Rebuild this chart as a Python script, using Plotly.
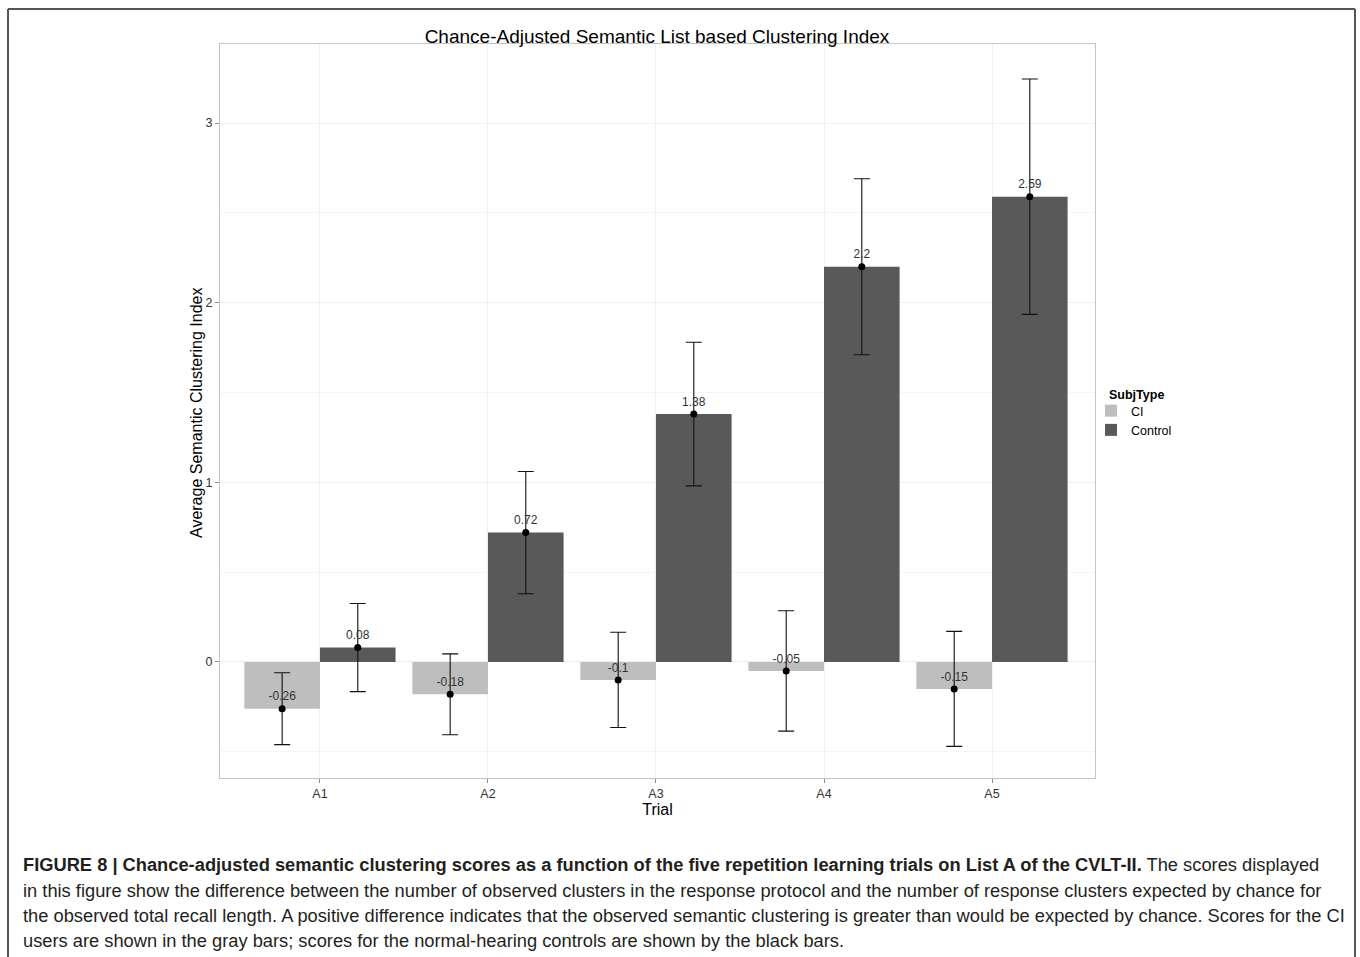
import plotly.graph_objects as go

trials = ["A1", "A2", "A3", "A4", "A5"]
ci_means = [-0.26, -0.18, -0.10, -0.05, -0.15]
ci_errors = [0.20, 0.225, 0.265, 0.335, 0.32]
control_means = [0.08, 0.72, 1.38, 2.20, 2.59]
control_errors = [0.245, 0.34, 0.40, 0.49, 0.655]
ci_labels = ["-0.26", "-0.18", "-0.1", "-0.05", "-0.15"]
control_labels = ["0.08", "0.72", "1.38", "2.2", "2.59"]

idx = list(range(len(trials)))
half = 0.225
x_ci = [i - half for i in idx]
x_ctl = [i + half for i in idx]

fig = go.Figure()

err_style = dict(type="data", color="#111111", thickness=1.1, width=8)

fig.add_trace(go.Bar(
    x=x_ci, y=ci_means, width=2 * half, name="CI",
    marker=dict(color="#bebebe", line=dict(width=0)),
    error_y=dict(array=ci_errors, **err_style),
))
fig.add_trace(go.Bar(
    x=x_ctl, y=control_means, width=2 * half, name="Control",
    marker=dict(color="#595959", line=dict(width=0)),
    error_y=dict(array=control_errors, **err_style),
))
for xs, ys, labs in [(x_ci, ci_means, ci_labels), (x_ctl, control_means, control_labels)]:
    fig.add_trace(go.Scatter(
        x=xs, y=ys, mode="markers+text", text=labs,
        textposition="top center",
        textfont=dict(family="Liberation Sans, Arial", size=12, color="#333333"),
        marker=dict(color="black", size=7), showlegend=False, cliponaxis=False,
    ))

# frame geometry helpers (pixel -> paper)
L, R, T, B = 220, 1095, 44, 778
W, H = R - L, B - T
def px(x):
    return (x - L) / W
def py(y):
    return (B - y) / H

fig.update_layout(
    width=1360, height=957,
    margin=dict(l=L, r=1360 - R, t=T, b=957 - B),
    paper_bgcolor="white", plot_bgcolor="white",
    barmode="overlay",
    font=dict(family="Liberation Sans, Arial", color="black"),
    title=dict(text="Chance-Adjusted Semantic List based Clustering Index",
               x=px(657), xref="paper", xanchor="center",
               y=1 - 36 / 957, yanchor="middle",
               font=dict(size=19, color="black")),
    legend=dict(
        x=px(1091), y=py(396), xanchor="left", yanchor="top",
        font=dict(size=12.5), tracegroupgap=0, itemwidth=30,
        bgcolor="rgba(0,0,0,0)",
    ),
    showlegend=True,
)

fig.update_xaxes(
    range=[-0.595, 4.613],
    tickmode="array", tickvals=idx, ticktext=trials,
    showgrid=True, gridcolor="#f0f0f0", gridwidth=1,
    zeroline=False,
    showline=True, linecolor="#c4c4c4", linewidth=1, mirror=True,
    ticks="outside", ticklen=4, tickcolor="#8a8a8a",
    tickfont=dict(size=12.5, color="#333333"),
    title=dict(text="Trial", font=dict(size=16, color="black"), standoff=0),
)
fig.update_yaxes(
    range=[-0.646, 3.44],
    tickmode="linear", tick0=0, dtick=1,
    showgrid=True, gridcolor="#f0f0f0", gridwidth=1,
    minor=dict(dtick=0.5, tick0=0, showgrid=True, gridcolor="#f6f6f6", ticks=""),
    zeroline=False,
    showline=True, linecolor="#c4c4c4", linewidth=1, mirror=True,
    ticks="outside", ticklen=4, tickcolor="#8a8a8a",
    tickfont=dict(size=12.5, color="#333333"),
)

# y-axis title
fig.add_annotation(
    text="Average Semantic Clustering Index", textangle=-90,
    x=px(197), y=py(413), xref="paper", yref="paper",
    xanchor="center", yanchor="middle", showarrow=False,
    font=dict(size=16, color="black"),
)
# legend title
fig.add_annotation(
    text="<b>SubjType</b>", x=px(1107), y=py(395), xref="paper", yref="paper",
    xanchor="left", yanchor="middle", showarrow=False,
    font=dict(size=12.5, color="black"),
)

# outer figure frame (top, left, right)
frame = dict(type="line", xref="paper", yref="paper", line=dict(color="#555555", width=2))
fig.add_shape(x0=px(8), x1=px(1355), y0=py(9), y1=py(9), **frame)
fig.add_shape(x0=px(8), x1=px(8), y0=py(9), y1=py(960), **frame)
fig.add_shape(x0=px(1355), x1=px(1355), y0=py(9), y1=py(960), **frame)

caption_lines = [
    "<b>FIGURE 8 | Chance-adjusted semantic clustering scores as a function of the five repetition learning trials on List A of the CVLT-II.</b> The scores displayed",
    "in this figure show the difference between the number of observed clusters in the response protocol and the number of response clusters expected by chance for",
    "the observed total recall length. A positive difference indicates that the observed semantic clustering is greater than would be expected by chance. Scores for the CI",
    "users are shown in the gray bars; scores for the normal-hearing controls are shown by the black bars.",
]
caption_y = [865, 890, 915, 940]
for line, yy in zip(caption_lines, caption_y):
    fig.add_annotation(
        text=line, x=px(21), y=py(yy), xref="paper", yref="paper",
        xanchor="left", yanchor="middle", showarrow=False,
        font=dict(family="Liberation Sans, Arial", size=18.3, color="#231f20"),
    )

fig.write_html("out.html")
